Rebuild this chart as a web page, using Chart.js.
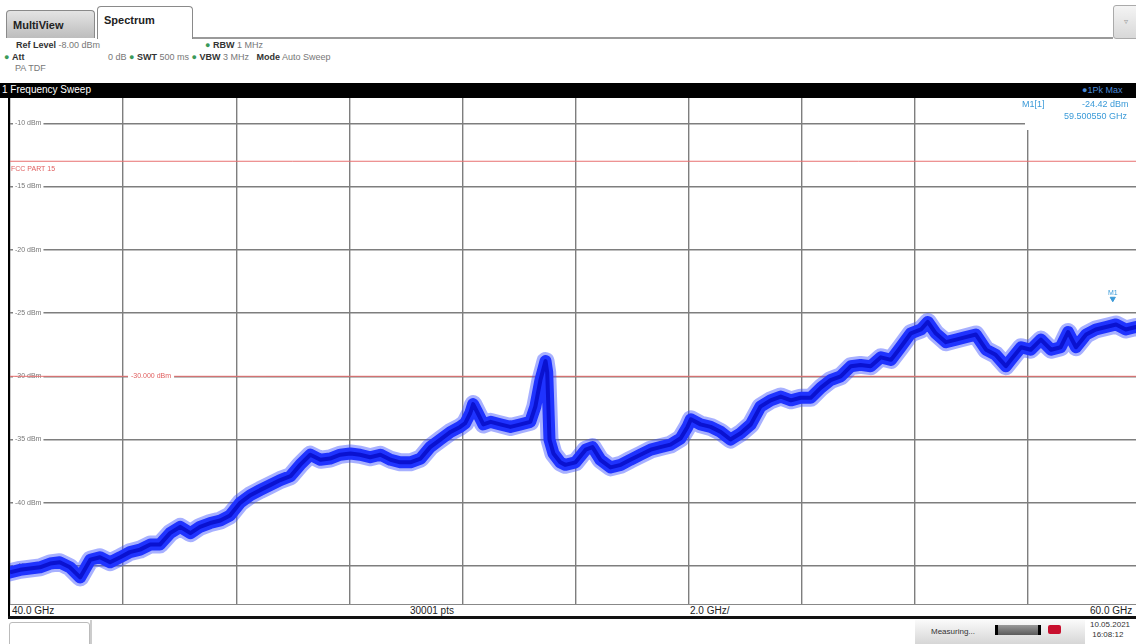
<!DOCTYPE html>
<html>
<head>
<meta charset="utf-8">
<script src="https://cdn.jsdelivr.net/npm/chart.js@4/dist/chart.umd.min.js"></script>
<style>
  html, body { margin: 0; padding: 0; background: #fff; overflow: hidden; }
  body { width: 1136px; height: 644px; position: relative; font-family: "Liberation Sans", Arial, sans-serif; color: #444; }
  .abs { position: absolute; white-space: nowrap; }
  .tab { position: absolute; border: 1px solid #8a8a8a; border-bottom: none; border-radius: 4px 4px 0 0; font-weight: bold; font-size: 11px; color: #222; padding: 0 0 0 6px; box-sizing: border-box; }
  .info { font-size: 9px; color: #777; }
  .info b { color: #333; font-weight: bold; }
  .dot { color: #3a9a5a; }
  #plot { position: absolute; left: 10px; top: 98px; width: 1131px; height: 506px; }
</style>
</head>
<body>
<!-- tabs -->
<div class="tab" style="left:6px;top:10px;width:89px;height:28px;background:linear-gradient(#e4e4e4,#bdbdbd);line-height:28px;">MultiView</div>
<div class="tab" style="left:97px;top:6px;width:96px;height:33px;background:#fff;line-height:26px;">Spectrum</div>
<div class="abs" style="left:193px;top:37px;width:920px;height:2px;background:#9a9a9a;"></div>
<div class="abs" style="left:1113px;top:5px;width:24px;height:32px;border:1px solid #aaa;border-radius:3px;background:linear-gradient(#f4f4f4,#d8d8d8);font-size:8px;color:#999;text-align:center;line-height:32px;">▿</div>

<!-- info lines -->
<div class="abs info" style="left:16px;top:40px;"><b>Ref Level</b> -8.00 dBm</div>
<div class="abs info" style="left:205px;top:40px;"><span class="dot">●</span> <b>RBW</b> 1 MHz</div>
<div class="abs info" style="left:4px;top:52px;"><span class="dot">●</span> <b>Att</b></div>
<div class="abs info" style="left:108px;top:52px;">0 dB <span class="dot">●</span> <b>SWT</b> 500 ms <span class="dot">●</span> <b>VBW</b> 3 MHz &nbsp; <b>Mode</b> Auto Sweep</div>
<div class="abs info" style="left:15px;top:63px;">PA TDF</div>

<!-- black title bar -->
<div class="abs" style="left:0;top:83px;width:1136px;height:15px;background:#000;"></div>
<div class="abs" style="left:2px;top:84px;font-size:10px;color:#fff;">1 Frequency Sweep</div>
<div class="abs" style="left:1082px;top:85px;font-size:9px;color:#4a8ad8;">●1Pk Max</div>

<div id="plot"><canvas id="spec"></canvas></div>

<!-- marker readout -->
<div class="abs" style="left:1025px;top:98px;width:111px;height:32px;background:#fff;"></div>
<div class="abs" style="left:1022px;top:99px;font-size:9px;color:#3a9ad8;">M1[1]</div>
<div class="abs" style="left:1082px;top:99px;font-size:9px;color:#3a9ad8;">-24.42 dBm</div>
<div class="abs" style="left:1064px;top:111px;font-size:9px;color:#3a9ad8;">59.500550 GHz</div>

<!-- frame -->
<div class="abs" style="left:8px;top:98px;width:2px;height:521px;background:#000;"></div>
<div class="abs" style="left:10px;top:604px;width:1126px;height:1px;background:#888;"></div>
<div class="abs" style="left:12px;top:605px;font-size:10px;color:#222;">40.0 GHz</div>
<div class="abs" style="left:410px;top:605px;font-size:10px;color:#222;">30001 pts</div>
<div class="abs" style="left:690px;top:605px;font-size:10px;color:#222;">2.0 GHz/</div>
<div class="abs" style="left:1090px;top:605px;font-size:10px;color:#222;">60.0 GHz</div>
<div class="abs" style="left:8px;top:616px;width:1128px;height:3px;background:#111;"></div>

<!-- status bar -->
<div class="abs" style="left:9px;top:622px;width:79px;height:24px;border:1px solid #bbb;border-radius:3px;background:#fff;"></div>
<div class="abs" style="left:90px;top:620px;width:2px;height:24px;background:#ccc;"></div>
<div class="abs" style="left:915px;top:620px;width:170px;height:24px;background:linear-gradient(#fafafa,#d6d6d6);"></div>
<div class="abs" style="left:931px;top:627px;font-size:8px;color:#333;">Measuring...</div>
<div class="abs" style="left:995px;top:625px;width:46px;height:10px;background:linear-gradient(#9a9a9a,#5a5a5a);border-left:3px solid #000;border-right:3px solid #000;box-sizing:border-box;"></div>
<div class="abs" style="left:1048px;top:625px;width:13px;height:9px;background:#c8102e;border-radius:2px;"></div>
<div class="abs" style="left:1090px;top:620px;font-size:8px;color:#333;line-height:10px;">10.05.2021<br>&nbsp;16:08:12</div>

<script>
// Sweep 40-60 GHz, 1Pk Max trace
const freqGHz = [
  40.00, 40.18, 40.35, 40.53, 40.71, 40.88, 41.06, 41.24, 41.42, 41.59,
  41.77, 41.95, 42.12, 42.30, 42.48, 42.65, 42.83, 43.01, 43.19, 43.36,
  43.54, 43.72, 43.89, 44.07, 44.25, 44.42, 44.60, 44.78, 44.96, 45.13,
  45.31, 45.49, 45.66, 45.84, 46.02, 46.19, 46.37, 46.55, 46.73, 46.90,
  47.08, 47.26, 47.43, 47.61, 47.79, 47.96, 48.05, 48.14, 48.19, 48.27,
  48.37, 48.50, 48.67, 48.85, 49.03, 49.20, 49.29, 49.38, 49.47, 49.50,
  49.54, 49.61, 49.73, 49.82, 50.00, 50.18, 50.30, 50.44, 50.62, 50.80,
  50.97, 51.15, 51.33, 51.50, 51.68, 51.86, 51.98, 52.04, 52.21, 52.39,
  52.57, 52.74, 52.92, 53.10, 53.27, 53.45, 53.63, 53.81, 53.98, 54.16,
  54.34, 54.51, 54.69, 54.87, 55.04, 55.22, 55.40, 55.58, 55.75, 55.93,
  56.11, 56.23, 56.37, 56.55, 56.73, 56.90, 57.08, 57.26, 57.43, 57.61,
  57.70, 57.88, 58.05, 58.23, 58.41, 58.58, 58.71, 58.85, 59.03, 59.20,
  59.38, 59.56, 59.73, 59.91, 60.00
];
const traceDbm = [
  -45.5, -45.3, -45.2, -45.1, -44.8, -44.7, -45.1, -45.9, -44.5, -44.3,
  -44.7, -44.3, -43.9, -43.7, -43.3, -43.3, -42.4, -41.9, -42.4, -41.9,
  -41.6, -41.4, -41.0, -40.0, -39.4, -39.0, -38.6, -38.2, -37.9, -37.0,
  -36.2, -36.6, -36.5, -36.2, -36.1, -36.2, -36.4, -36.2, -36.6, -36.8,
  -36.8, -36.5, -35.6, -35.0, -34.4, -34.0, -33.7, -32.9, -32.2, -32.9,
  -33.8, -33.6, -33.8, -34.0, -33.8, -33.6, -32.4, -30.3, -28.8, -29.7,
  -35.0, -36.1, -36.8, -37.0, -36.8, -35.8, -35.6, -36.6, -37.2, -37.0,
  -36.6, -36.2, -35.8, -35.6, -35.4, -34.9, -34.0, -33.4, -33.8, -34.0,
  -34.4, -35.0, -34.5, -33.8, -32.4, -31.9, -31.6, -31.9, -31.7, -31.7,
  -30.9, -30.3, -30.0, -29.2, -29.1, -29.2, -28.5, -28.7, -27.7, -26.6,
  -26.3, -25.7, -26.6, -27.3, -27.1, -26.9, -26.7, -27.9, -28.3, -29.2,
  -28.7, -27.7, -27.9, -27.1, -27.9, -27.7, -26.5, -27.7, -26.7, -26.3,
  -26.1, -25.9, -26.3, -26.1, -26.2
];

const xTicks = [40, 42, 44, 46, 48, 50, 52, 54, 56, 58, 60];
const yTicks = [-10, -15, -20, -25, -30, -35, -40, -45];
const yTickLabels = ['-10 dBm', '-15 dBm', '-20 dBm', '-25 dBm', '-30 dBm', '-35 dBm', '-40 dBm', '-45 dBm'];

// limit lines
const fccLimitDbm = -13;
const displayLineDbm = -30;

// marker M1
const markerGHz = 59.50055;
const markerDbm = -24.42;

const tracePoints = freqGHz.map((f, i) => ({ x: f, y: traceDbm[i] }));

// y tick labels and limit-line captions, drawn under the trace
const labelPlugin = {
  id: 'labels',
  beforeDatasetsDraw(chart) {
    const { ctx, scales } = chart;
    const y = scales.y;
    ctx.save();
    ctx.font = '7px "Liberation Sans", Arial, sans-serif';
    ctx.textBaseline = 'middle';
    yTicks.forEach((v, i) => {
      const py = y.getPixelForValue(v);
      const w = ctx.measureText(yTickLabels[i]).width;
      ctx.fillStyle = '#fff';
      ctx.fillRect(3, py - 4, w + 4, 8);
      ctx.fillStyle = '#777';
      ctx.fillText(yTickLabels[i], 5, py);
    });
    ctx.fillStyle = '#e06060';
    ctx.fillText('FCC PART 15', 1, y.getPixelForValue(fccLimitDbm) + 8);
    ctx.restore();
  },
  afterDatasetsDraw(chart) {
    const { ctx, scales } = chart;
    const y = scales.y, x = scales.x;
    ctx.save();
    ctx.font = '7px "Liberation Sans", Arial, sans-serif';
    ctx.textBaseline = 'middle';
    const dl = y.getPixelForValue(displayLineDbm);
    const txt = '-30.000 dBm';
    const tw = ctx.measureText(txt).width;
    ctx.fillStyle = '#fff';
    ctx.fillRect(118, dl - 4, tw + 6, 8);
    ctx.fillStyle = '#e06060';
    ctx.fillText(txt, 121, dl);
    ctx.fillStyle = '#3a9ad8';
    ctx.textAlign = 'center';
    ctx.fillText('M1', x.getPixelForValue(markerGHz), y.getPixelForValue(markerDbm) - 13);
    ctx.restore();
  }
};

new Chart(document.getElementById('spec'), {
  type: 'line',
  data: {
    datasets: [
      {
        data: [{ x: 40, y: fccLimitDbm }, { x: 60, y: fccLimitDbm }],
        borderColor: '#e87070', borderWidth: 1, pointRadius: 0, order: 4
      },
      {
        data: [{ x: 40, y: displayLineDbm }, { x: 60, y: displayLineDbm }],
        borderColor: '#e87070', borderWidth: 1, pointRadius: 0, order: 4
      },
      {
        // soft outer edge of the noise band
        data: tracePoints,
        borderColor: 'rgba(60, 80, 255, 0.45)', borderWidth: 18, pointRadius: 0,
        tension: 0, borderJoinStyle: 'round', borderCapStyle: 'round', order: 3
      },
      {
        data: tracePoints,
        borderColor: '#1f33ff', borderWidth: 12, pointRadius: 0,
        tension: 0, borderJoinStyle: 'round', borderCapStyle: 'round', order: 2
      },
      {
        data: tracePoints,
        borderColor: '#0a12d0', borderWidth: 4, pointRadius: 0,
        tension: 0, borderJoinStyle: 'round', order: 1
      },
      {
        data: [{ x: markerGHz, y: markerDbm + 0.55 }],
        showLine: false, pointStyle: 'triangle', rotation: 180,
        pointRadius: 3, backgroundColor: '#3a9ad8', borderColor: '#3a9ad8', order: 0
      }
    ]
  },
  options: {
    responsive: true,
    maintainAspectRatio: false,
    animation: false,
    layout: { padding: 0, autoPadding: false },
    plugins: { legend: { display: false }, tooltip: { enabled: false } },
    scales: {
      x: {
        type: 'linear', min: 40, max: 60,
        afterBuildTicks: s => { s.ticks = xTicks.map(v => ({ value: v })); },
        afterFit: s => { s.height = 0; },
        ticks: { display: false },
        grid: { color: '#7e7e7e', lineWidth: 1.4, drawTicks: false },
        border: { display: false }
      },
      y: {
        min: -48, max: -8,
        afterBuildTicks: s => { s.ticks = yTicks.map(v => ({ value: v })); },
        afterFit: s => { s.width = 0; },
        ticks: { display: false },
        grid: { color: '#7e7e7e', lineWidth: 1.4, drawTicks: false },
        border: { display: false }
      }
    }
  },
  plugins: [labelPlugin]
});
</script>
</body>
</html>
